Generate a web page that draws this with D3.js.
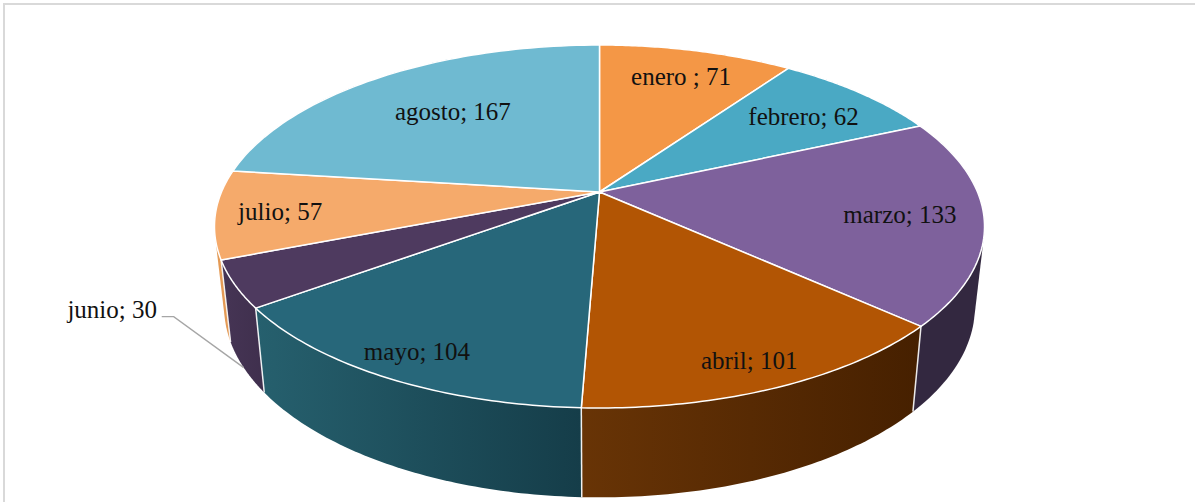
<!DOCTYPE html>
<html>
<head>
<meta charset="utf-8">
<script src="https://cdn.jsdelivr.net/npm/d3@7"></script>
<style>
    html, body { margin: 0; padding: 0; background: #fff; }
    svg { display: block; }
    text { font-family: "Liberation Serif", serif; font-size: 25px; fill: #111; }
</style>
</head>
<body>
<div id="chart"></div>
<script>
const months = ["enero ", "febrero", "marzo", "abril", "mayo", "junio", "julio", "agosto"];
const counts = [71, 62, 133, 101, 104, 30, 57, 167];

const topColors = ["#f49746", "#4aa9c4", "#7e619c", "#b25504", "#27677a", "#4e3a5f", "#f5aa6b", "#6fbad1"];
const sideLeft = ["#a8662c", "#2f7083", "#332840", "#683406", "#26606e", "#463555", "#e49a55", "#47798a"];
const sideRight = ["#a8662c", "#2f7083", "#332840", "#462000", "#153d49", "#3f2f4d", "#e49a55", "#47798a"];

// walls are painted back to front
const wallOrder = [7, 6, 0, 1, 2, 3, 5, 4];

const width = 1195,
    height = 502;

// label offsets in px from the point at 3/4 of the radius
const labelNudge = [[6, -5], [3, 1], [14, 2], [23, 30], [-30, 27], [0, 0], [-33, 3.5], [23, 9]];

// circle -> picture, fitted so slice centre lands on the apex of the pie
const cx = 599.5, cy = 192, k = 378, persp = 0.19, tilt = 138.45;

function topPoint(r, a) {
    const u = r * Math.sin(a), v = r * Math.cos(a), d = 1 + persp * v;
    return [cx + k * u / d, (cy - tilt * v) / d];
}

function bottomPoint(r, a) {
    const p = topPoint(r, a);
    return [cx + (p[0] - cx) * 0.975, p[1] * 1.05 + 69];
}

const svg = d3.select("#chart")
    .append("svg")
    .attr("width", width)
    .attr("height", height);

// frame of the chart area, only top and left show
svg.append("path")
    .attr("d", d3.line()([[4, height], [4, 4], [width, 4]]))
    .attr("fill", "none")
    .attr("stroke", "#d9d9d9")
    .attr("stroke-width", 2);

const pie = d3.pie().sort(null).value(d => d)(counts);
const color = d3.scaleOrdinal().domain(months).range(topColors);
const line = d3.line();

function arcAngles(d) {
    return d3.range(0, 61).map(i => d.startAngle + (d.endAngle - d.startAngle) * i / 60);
}

const defs = svg.append("defs");

// side walls, the hull also fills the fold at the silhouette
// (anything it adds past the wall ends up under the top face or the next wall)
wallOrder.forEach(i => {
    const angles = arcAngles(pie[i]);
    const pts = angles.map(a => topPoint(1, a)).concat(angles.map(a => bottomPoint(1, a)));
    const xs = pts.map(p => p[0]);

    const grad = defs.append("linearGradient")
        .attr("id", "side" + i)
        .attr("gradientUnits", "userSpaceOnUse")
        .attr("x1", d3.min(xs)).attr("y1", 0)
        .attr("x2", d3.max(xs)).attr("y2", 0);
    grad.append("stop").attr("offset", 0).attr("stop-color", sideLeft[i]);
    grad.append("stop").attr("offset", 1).attr("stop-color", sideRight[i]);

    svg.append("path")
        .attr("d", line(d3.polygonHull(pts)) + "Z")
        .attr("fill", `url(#side${i})`);
});

// dividers between the walls
pie.forEach(d => {
    svg.append("path")
        .attr("d", line([topPoint(1, d.endAngle), bottomPoint(1, d.endAngle)]))
        .attr("stroke", "#fff")
        .attr("stroke-opacity", 0.9)
        .attr("stroke-width", 1.5);
});

// top face
svg.selectAll("path.slice")
    .data(pie)
    .join("path")
    .attr("class", "slice")
    .attr("d", d => line([[cx, cy]].concat(arcAngles(d).map(a => topPoint(1, a)))) + "Z")
    .attr("fill", (d, i) => color(months[i]))
    .attr("stroke", "#fff")
    .attr("stroke-width", 1.5)
    .attr("stroke-linejoin", "round");

// labels
svg.selectAll("text.label")
    .data(pie.filter((d, i) => months[i] != "junio"))
    .join("text")
    .attr("class", "label")
    .attr("text-anchor", "middle")
    .attr("dy", "0.33em")
    .attr("x", d => topPoint(0.75, (d.startAngle + d.endAngle) / 2)[0] + labelNudge[d.index][0])
    .attr("y", d => topPoint(0.75, (d.startAngle + d.endAngle) / 2)[1] + labelNudge[d.index][1])
    .text(d => `${months[d.index]}; ${d.value}`);

// junio sits outside with a leader line
const junio = pie[months.indexOf("junio")];
const end = bottomPoint(1, (junio.startAngle + junio.endAngle) / 2);

svg.append("path")
    .attr("d", line([end, [end[0] - 70, end[1] - 51], [end[0] - 82, end[1] - 51]]))
    .attr("fill", "none")
    .attr("stroke", "#a6a6a6")
    .attr("stroke-width", 1.4);

svg.append("text")
    .attr("text-anchor", "middle")
    .attr("dy", "0.33em")
    .attr("x", end[0] - 131.5)
    .attr("y", end[1] - 58)
    .text(`junio; ${junio.value}`);
</script>
</body>
</html>
